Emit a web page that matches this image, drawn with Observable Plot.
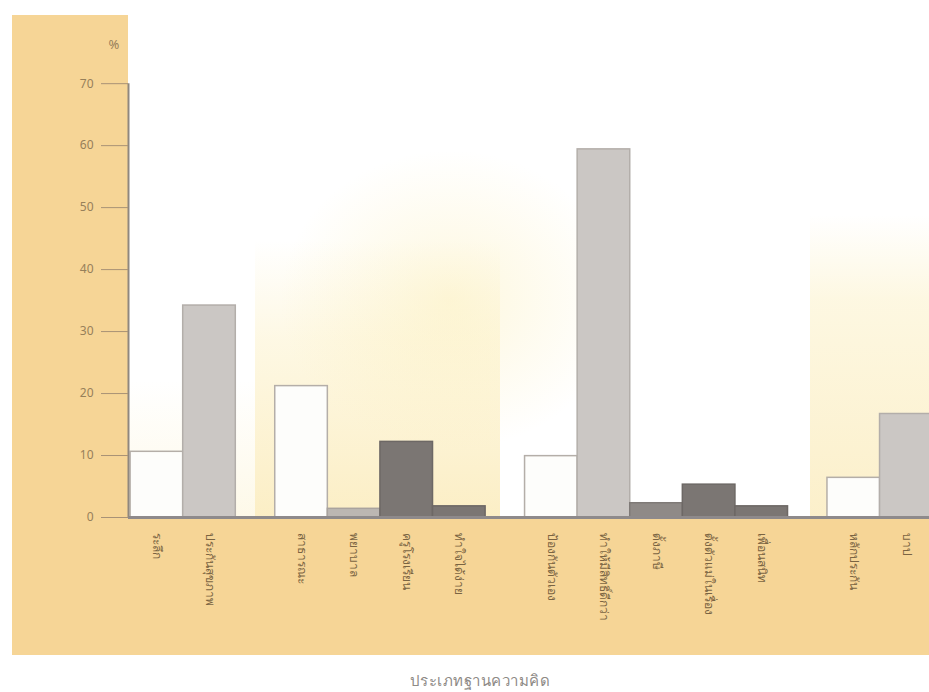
<!DOCTYPE html>
<html>
<head>
<meta charset="utf-8">
<script src="https://cdn.jsdelivr.net/npm/d3@7"></script>
<script src="https://cdn.jsdelivr.net/npm/@observablehq/plot@0.6"></script>
<style>
  html, body { margin: 0; padding: 0; background: #ffffff; }
  #wrap { position: relative; width: 929px; height: 692px; overflow: hidden; font-family: "Noto Sans", "DejaVu Sans", sans-serif; }
  #panel { position: absolute; left: 12px; top: 15px; width: 917px; height: 640px; background: #f6d596; }
  #plotbg {
    position: absolute; left: 128px; top: 0; width: 801px; height: 517px;
    background:
      radial-gradient(ellipse 170px 150px at 322px 300px, rgba(252,238,180,0.45), rgba(255,255,255,0) 100%),
      linear-gradient(to bottom, rgba(255,255,255,0) 0px, rgba(255,255,255,0) 240px, rgba(250,232,165,0.3) 340px, rgba(248,222,140,0.5) 517px) 127px 0 / 245px 517px no-repeat,
      linear-gradient(to bottom, rgba(255,255,255,0) 0px, rgba(255,255,255,0) 215px, rgba(250,234,170,0.35) 300px, rgba(248,224,150,0.5) 517px) 682px 0 / 119px 517px no-repeat,
      linear-gradient(to bottom, rgba(255,255,255,0) 0px, rgba(255,255,255,0) 380px, rgba(250,235,180,0.3) 517px) 0 0 / 127px 517px no-repeat,
      #ffffff;
  }
  #chart { position: absolute; left: 0; top: 0; }
  #caption { position: absolute; left: 0; top: 669px; width: 960px; text-align: center; font-size: 15px; color: #8e8a86; letter-spacing: 0.5px; }
</style>
</head>
<body>
<div id="wrap">
  <div id="panel"></div>
  <div id="plotbg"></div>
  <div id="chart"></div>
  <div id="caption">ประเภทฐานความคิด</div>
</div>
<script>
// ---- data ----
const categories = [
  "ระลึก", "ประกันสุขภาพ",
  "สาธารณะ", "พยาบาล", "ครูโรงเรียน", "ทำใจได้ง่าย",
  "ป้องกันตัวเอง", "ทำให้มีสิทธิ์ดีกว่า", "ตั้งภาษี", "ตั้งตัวแม่ในเรื่อง", "เพื่อนสนิท",
  "หลักประกัน", "บาป"
];
const groups = [0, 0, 1, 1, 1, 1, 2, 2, 2, 2, 2, 3, 3];
const values = [10.6, 34.2, 21.2, 1.4, 12.2, 1.8, 9.9, 59.4, 2.3, 5.3, 1.8, 6.4, 16.7];
const kinds  = ["white", "light", "white", "pale", "dark", "dark", "white", "light", "mid", "dark", "dark", "white", "light"];
const yTicks = [0, 10, 20, 30, 40, 50, 60, 70];

// ---- layout helpers (slot units: one bar = 1, group gap = 0.75) ----
const startOffset = 0.04, groupGap = 0.75;
const data = categories.map((c, i) => {
  const x1 = startOffset + i + groups[i] * groupGap;
  return { category: c, value: values[i], kind: kinds[i], x1, x2: x1 + 1, xc: x1 + 0.5 };
});

const kindDomain = ["white", "light", "pale", "mid", "dark"];
const fillRange   = ["#fdfdfb", "#cbc7c4", "#bcb7b2", "#8f8a87", "#7b7673"];
const strokeRange = ["#b4aea8", "#b3aeaa", "#a9a39e", "#7f7a77", "#6d6865"];
const strokeOf = k => strokeRange[kindDomain.indexOf(k)];

const chart = Plot.plot({
  width: 929,
  height: 692,
  marginLeft: 128,
  marginRight: 0,
  marginTop: 15,
  marginBottom: 175,
  style: { background: "transparent", fontFamily: "'Noto Sans', 'DejaVu Sans', sans-serif", overflow: "visible" },
  x: { domain: [0, 15.23], axis: null },
  y: { domain: [0, 81], axis: null },
  color: { domain: kindDomain, range: fillRange },
  marks: [
    Plot.rectY(data, {
      x1: "x1", x2: "x2", y: "value",
      fill: "kind",
      stroke: d => strokeOf(d.kind),
      strokeWidth: 1.5,
      clip: true
    }),
    Plot.ruleY([0], { stroke: "#8e8a8b", strokeWidth: 3 }),
    Plot.ruleX([0], { y1: 0, y2: d3.max(yTicks), stroke: "#8f877e", strokeWidth: 2 }),
    Plot.axisY({
      ticks: yTicks,
      tickSize: 27,
      tickPadding: 8,
      fontSize: 12,
      color: "#96805a",
      stroke: "#a89276",
      label: null
    }),
    Plot.text(["%"], {
      frameAnchor: "top-left",
      dx: -20, dy: 24,
      fontSize: 13,
      fill: "#96805a"
    }),
    Plot.axisX(data.map(d => d.xc), {
      tickFormat: (x) => data.find(d => d.xc === x).category,
      tickRotate: 90,
      tickSize: 0,
      tickPadding: 15,
      fontSize: 12,
      color: "#7a6442",
      label: null
    })
  ]
});
document.getElementById("chart").appendChild(chart);
</script>
</body>
</html>
